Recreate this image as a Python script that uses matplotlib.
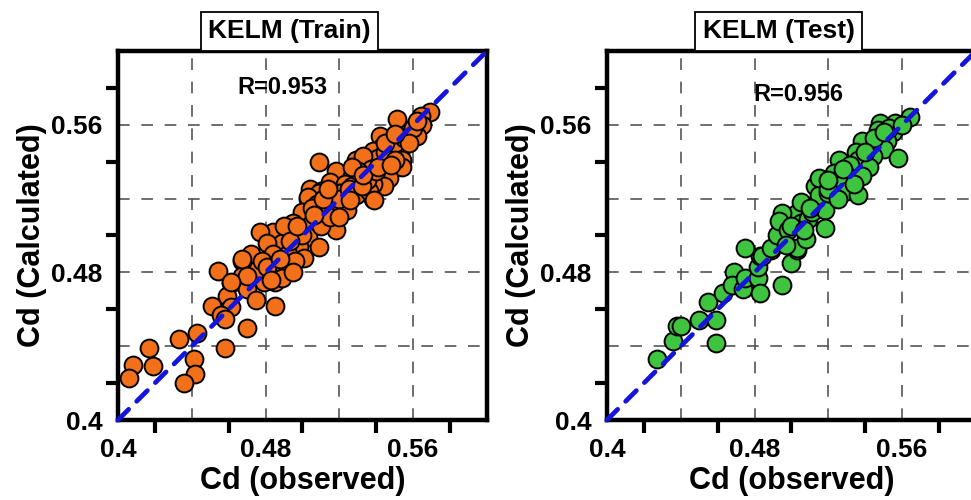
import numpy as np
import matplotlib
matplotlib.use("Agg")
import matplotlib.pyplot as plt

plt.rcParams['font.family'] = ['Liberation Sans', 'DejaVu Sans']
plt.rcParams['font.weight'] = 'bold'

# observed vs calculated Cd
train_obs = [0.454, 0.467, 0.472, 0.467, 0.461, 0.470, 0.459, 0.475, 0.485, 0.451,
             0.461, 0.456, 0.458, 0.470, 0.443, 0.433, 0.417, 0.458, 0.441, 0.408,
             0.419, 0.442, 0.406, 0.436, 0.479, 0.485, 0.476, 0.484,
             0.569, 0.564, 0.551, 0.565, 0.558, 0.562, 0.552, 0.554, 0.542, 0.548,
             0.543, 0.538, 0.548, 0.554, 0.541, 0.544, 0.529, 0.533, 0.509, 0.537,
             0.546, 0.554, 0.518, 0.527, 0.539, 0.547, 0.515, 0.523, 0.530, 0.536,
             0.544, 0.504, 0.510, 0.520, 0.529, 0.538, 0.503, 0.516, 0.523,
             0.527, 0.538, 0.536, 0.539, 0.521, 0.509, 0.503, 0.516, 0.524, 0.508,
             0.500, 0.510, 0.505, 0.518, 0.495, 0.503, 0.494, 0.484, 0.477, 0.509,
             0.498, 0.489, 0.481, 0.501, 0.492, 0.484, 0.467, 0.478, 0.490, 0.496,
             0.481, 0.489, 0.495, 0.470, 0.483, 0.461,
             0.490, 0.500, 0.505, 0.510, 0.515, 0.520, 0.525, 0.530, 0.535, 0.540,
             0.545, 0.550, 0.555, 0.560, 0.520, 0.526, 0.532, 0.488, 0.493, 0.497,
             0.511, 0.514, 0.506, 0.527, 0.533, 0.541, 0.550, 0.548, 0.545, 0.558,
             0.562, 0.550]
train_calc = [0.481, 0.486, 0.490, 0.478, 0.474, 0.471, 0.467, 0.465, 0.462, 0.462,
              0.461, 0.457, 0.455, 0.450, 0.447, 0.444, 0.439, 0.439, 0.433, 0.430,
              0.429, 0.425, 0.423, 0.420, 0.475, 0.475, 0.482, 0.480,
              0.567, 0.565, 0.563, 0.560, 0.556, 0.554, 0.554, 0.548, 0.554, 0.551,
              0.548, 0.546, 0.544, 0.541, 0.542, 0.539, 0.541, 0.543, 0.540, 0.536,
              0.535, 0.537, 0.535, 0.532, 0.532, 0.531, 0.529, 0.528, 0.529, 0.525,
              0.527, 0.525, 0.524, 0.523, 0.522, 0.520, 0.520, 0.519, 0.516,
              0.527, 0.528, 0.524, 0.519, 0.523, 0.523, 0.521, 0.517, 0.514, 0.517,
              0.513, 0.511, 0.507, 0.503, 0.507, 0.499, 0.502, 0.502, 0.502, 0.494,
              0.494, 0.496, 0.496, 0.488, 0.490, 0.490, 0.487, 0.486, 0.483, 0.486,
              0.483, 0.477, 0.480, 0.478, 0.476, 0.475,
              0.505, 0.500, 0.515, 0.505, 0.510, 0.520, 0.525, 0.535, 0.530, 0.535,
              0.545, 0.550, 0.553, 0.558, 0.510, 0.519, 0.527, 0.487, 0.497, 0.505,
              0.520, 0.525, 0.511, 0.537, 0.533, 0.537, 0.541, 0.538, 0.550, 0.550,
              0.562, 0.555]

test_obs = [0.427, 0.436, 0.438, 0.440, 0.450, 0.459, 0.459, 0.455, 0.463, 0.469,
            0.473, 0.468, 0.474, 0.475, 0.482, 0.483, 0.482, 0.483, 0.475, 0.495,
            0.500, 0.503, 0.489, 0.484, 0.489, 0.503, 0.496, 0.492, 0.503, 0.495,
            0.493, 0.498, 0.508, 0.505, 0.509, 0.514, 0.511, 0.518, 0.518, 0.513,
            0.515, 0.520,
            0.564, 0.556, 0.548, 0.555, 0.547, 0.552, 0.542, 0.538, 0.550, 0.558,
            0.535, 0.544, 0.536, 0.526, 0.532, 0.542, 0.530, 0.538, 0.523, 0.525,
            0.515, 0.520, 0.530, 0.525, 0.536, 0.505,
            0.545, 0.553, 0.540, 0.528, 0.520, 0.510, 0.500, 0.497, 0.507, 0.534,
            0.560, 0.550]
test_calc = [0.433, 0.443, 0.451, 0.451, 0.454, 0.442, 0.454, 0.464, 0.469, 0.480,
             0.474, 0.473, 0.471, 0.477, 0.477, 0.469, 0.483, 0.489, 0.493, 0.473,
             0.485, 0.492, 0.492, 0.489, 0.493, 0.493, 0.499, 0.500, 0.512, 0.512,
             0.508, 0.503, 0.498, 0.507, 0.509, 0.517, 0.513, 0.514, 0.504, 0.527,
             0.522, 0.523,
             0.564, 0.561, 0.561, 0.556, 0.557, 0.551, 0.549, 0.551, 0.547, 0.542,
             0.545, 0.543, 0.541, 0.541, 0.538, 0.537, 0.532, 0.532, 0.534, 0.530,
             0.531, 0.525, 0.524, 0.520, 0.522, 0.518,
             0.553, 0.558, 0.545, 0.536, 0.530, 0.515, 0.505, 0.495, 0.503, 0.528,
             0.560, 0.556]

panels = [
    ('KELM (Train)', 'R=0.953', train_obs, train_calc, '#F2701A', (0.447, 0.902)),
    ('KELM (Test)', 'R=0.956', test_obs, test_calc, '#3FC43F', (0.518, 0.881)),
]

label_ticks = [0.4, 0.48, 0.56]
minor_ticks = [0.42, 0.46, 0.50, 0.54, 0.58]
grid_pos = [0.44, 0.48, 0.52, 0.56]
lims = (0.4, 0.6)

fig = plt.figure(figsize=(9.71, 5.0), dpi=100)
positions = [[0.1215, 0.16, 0.380, 0.738], [0.6251, 0.16, 0.380, 0.738]]

for pos, (title, rtext, obs, calc, color, rxy) in zip(positions, panels):
    ax = fig.add_axes(pos)
    ax.set_xlim(lims)
    ax.set_ylim(lims)

    for g in grid_pos:
        ax.axvline(g, color='#555555', lw=1.2, dashes=(7, 7), zorder=0)
        ax.axhline(g, color='#555555', lw=1.2, dashes=(7, 7), zorder=0)

    ax.scatter(obs, calc, s=165, c=color, edgecolors='black', linewidths=1.4, zorder=2)
    ax.plot(lims, lims, color='#1414DC', lw=3.4, dashes=(3.2, 2.4),
            dash_capstyle='round', zorder=3, clip_on=False)

    ax.set_xticks(label_ticks)
    ax.set_yticks(label_ticks)
    ax.set_xticklabels(['0.4', '0.48', '0.56'])
    ax.set_yticklabels(['0.4', '0.48', '0.56'])
    ax.set_xticks(minor_ticks, minor=True)
    ax.set_yticks(minor_ticks, minor=True)
    ax.tick_params(which='major', length=0, labelsize=19)
    ax.tick_params(axis='x', which='major', pad=13)
    ax.tick_params(axis='y', which='major', pad=11)
    ax.tick_params(which='minor', direction='out', length=9, width=3)
    for lab in ax.get_xticklabels() + ax.get_yticklabels():
        lab.set_fontweight('bold')
    for sp in ax.spines.values():
        sp.set_linewidth(3.2)

    ax.set_xlabel('Cd (observed)', fontsize=22, fontweight='bold', labelpad=3)
    ax.set_ylabel('Cd (Calculated)', fontsize=22, fontweight='bold', labelpad=3)

    ax.annotate(title, xy=(0.465, 1.0), xycoords='axes fraction',
                xytext=(0, 5.5), textcoords='offset points',
                ha='center', va='bottom', fontsize=19, fontweight='bold',
                bbox=dict(boxstyle='square,pad=0.28', fc='white', ec='black', lw=1.3))
    ax.text(rxy[0], rxy[1], rtext, transform=ax.transAxes, ha='center', va='center',
            fontsize=17, fontweight='bold')

fig.savefig('out.png', dpi=100)
